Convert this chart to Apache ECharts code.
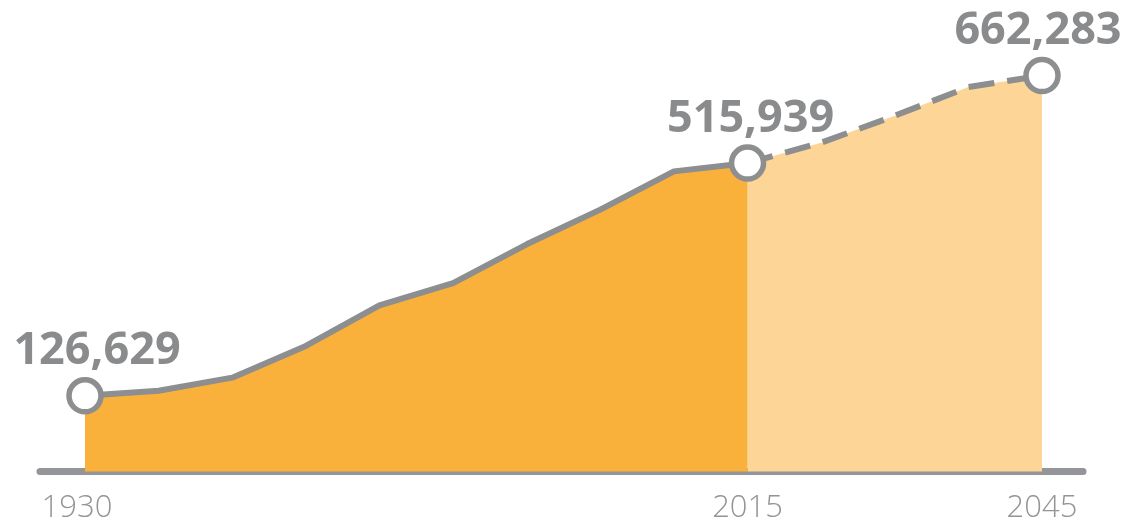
<!DOCTYPE html>
<html>
<head>
<meta charset="utf-8">
<title>Population 1930–2045</title>
<script src="https://cdn.jsdelivr.net/npm/echarts@6/dist/echarts.min.js"></script>
<style>
  html, body { margin: 0; padding: 0; background: #ffffff; }
  #chart { width: 1128px; height: 524px; }
</style>
</head>
<body>
<div id="chart"></div>
<script>
// Years on the horizontal axis (evenly spaced steps)
const years = [1930, 1940, 1950, 1960, 1970, 1980, 1990, 2000, 2010, 2015, 2020, 2030, 2040, 2045];
// Recorded population, 1930–2015
const recorded = [126629, 135000, 157000, 210000, 278000, 315000, 380000, 438000, 502000, 515939];
// Projected population, 2015–2045
const projected = [515939, 550000, 595000, 643000, 662283];
// Years whose value is written above a marker
const labelledYears = [1930, 2015, 2045];

const projStart = recorded.length - 1;
const recordedData = recorded.map((v, i) => [i, v]);
const projectedData = projected.map((v, i) => [projStart + i, v]);

const GRAY = '#8d8e90';
const fmt = v => v.toLocaleString('en-US');
const isLabelled = i => labelledYears.includes(years[i]);
const labelOffsets = { 1930: [12, 0], 2015: [3, 0], 2045: [-4, 0] };

// Only the labelled years get a ring marker and a value label
function pointStyle(data, skipFirst) {
  return data.map((d, k) => {
    const i = d[0];
    if (!isLabelled(i) || (skipFirst && k === 0)) {
      return { value: d, symbol: 'none', label: { show: false } };
    }
    return { value: d, symbol: 'circle', label: { show: true, offset: labelOffsets[years[i]] } };
  });
}

const valueLabel = {
  position: 'top',
  distance: 3,
  formatter: p => fmt(p.value[1]),
  fontFamily: '"Open Sans", sans-serif',
  fontWeight: 'bold',
  fontSize: 45,
  color: '#8a8b8d'
};

const marker = { color: '#ffffff', borderColor: GRAY, borderWidth: 5.5 };

const chart = echarts.init(document.getElementById('chart'), null, { renderer: 'canvas' });
chart.setOption({
  animation: false,
  backgroundColor: '#ffffff',
  grid: { left: 40, right: 45, top: 53, bottom: 51 },
  xAxis: {
    type: 'value',
    min: -0.6113,
    max: 13.557,
    offset: 3.5,
    splitLine: { show: false },
    axisTick: { show: false },
    axisLine: { show: true, lineStyle: { color: '#939598', width: 7 } },
    axisLabel: {
      customValues: labelledYears.map(y => years.indexOf(y)),
      formatter: v => {
        const y = years[Math.round(v)];
        return y === years[0] ? '{first|' + y + '}' : String(y);
      },
      rich: {
        first: {
          fontFamily: '"Open Sans", sans-serif',
          fontWeight: 300,
          fontSize: 31,
          color: '#939496',
          padding: [0, 16, 0, 0]
        }
      },
      margin: 18,
      fontFamily: '"Open Sans", sans-serif',
      fontWeight: 300,
      fontSize: 31,
      color: '#939496'
    }
  },
  yAxis: { type: 'value', min: 0, max: 700000, show: false },
  series: [
    {
      name: 'Projected',
      type: 'line',
      data: pointStyle(projectedData, true),
      symbolSize: 32,
      itemStyle: marker,
      lineStyle: { color: GRAY, width: 6, type: [26, 13] },
      areaStyle: { color: '#fdd597', opacity: 1 },
      label: valueLabel,
      z: 2
    },
    {
      name: 'Recorded',
      type: 'line',
      data: pointStyle(recordedData, false),
      symbolSize: 32,
      itemStyle: marker,
      lineStyle: { color: GRAY, width: 6 },
      areaStyle: { color: '#fab13b', opacity: 1 },
      label: valueLabel,
      z: 3
    }
  ]
});
</script>
</body>
</html>
